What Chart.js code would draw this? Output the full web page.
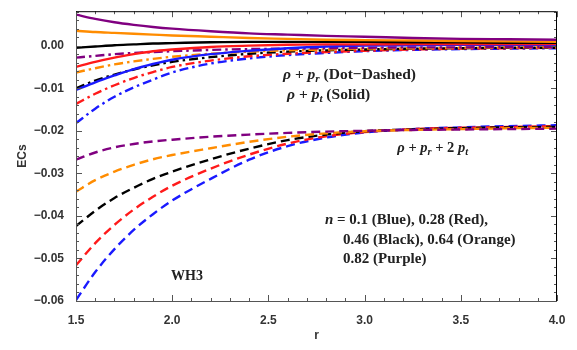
<!DOCTYPE html>
<html>
<head>
<meta charset="utf-8">
<script src="https://cdn.jsdelivr.net/npm/chart.js@4.4.1/dist/chart.umd.min.js"></script>
<style>
    body { margin: 0; background: #fff; }
    #wrap { width: 577px; height: 350px; }
</style>
</head>
<body>
<div id="wrap"><canvas id="canvasEcs"></canvas></div>
<script>
// radial coordinate samples
const rVals = [1.5, 1.6, 1.7, 1.8, 1.9, 2.0, 2.2, 2.4, 2.6, 2.8, 3.0, 3.25, 3.5, 3.75, 4.0]
const xTicks = [1.5, 2.0, 2.5, 3.0, 3.5, 4.0]
const yTicks = [-0.06, -0.05, -0.04, -0.03, -0.02, -0.01, 0.0]

// rho + p_t (solid)
const solidBlue   = [-0.0104, -0.0086, -0.0070, -0.0055, -0.0043, -0.0033, -0.0020, -0.0012, -0.0006, -0.0002, 0.0000, 0.0001, 0.0002, 0.0002, 0.0002]
const solidRed    = [-0.0050, -0.0038, -0.0028, -0.0020, -0.0013, -0.0009, -0.0003, 0.0000, 0.0002, 0.0003, 0.0003, 0.0004, 0.0004, 0.0004, 0.0004]
const solidBlack  = [-0.0005, -0.0002, 0.0001, 0.0003, 0.0005, 0.0006, 0.0008, 0.0009, 0.0009, 0.0009, 0.0009, 0.0008, 0.0008, 0.0007, 0.0007]
const solidOrange = [0.0035, 0.0032, 0.0030, 0.0028, 0.0026, 0.0024, 0.0021, 0.0018, 0.0016, 0.0014, 0.0013, 0.0012, 0.0011, 0.0010, 0.0009]
const solidPurple = [0.0073, 0.0063, 0.0055, 0.0049, 0.0044, 0.0040, 0.0034, 0.0029, 0.0026, 0.0023, 0.0021, 0.0018, 0.0016, 0.0015, 0.0014]

// rho + p_r (dot-dashed)
const dotBlue   = [-0.0182, -0.0148, -0.0120, -0.0098, -0.0080, -0.0063, -0.0042, -0.0030, -0.0022, -0.0017, -0.0013, -0.0010, -0.0008, -0.0007, -0.0006]
const dotRed    = [-0.0137, -0.0113, -0.0093, -0.0076, -0.0062, -0.0050, -0.0035, -0.0025, -0.0019, -0.0015, -0.0012, -0.0009, -0.0007, -0.0006, -0.0005]
const dotBlack  = [-0.0100, -0.0082, -0.0068, -0.0056, -0.0046, -0.0038, -0.0027, -0.0019, -0.0014, -0.0011, -0.0009, -0.0007, -0.0006, -0.0005, -0.0005]
const dotOrange = [-0.0063, -0.0053, -0.0044, -0.0037, -0.0031, -0.0026, -0.0019, -0.0014, -0.0011, -0.0009, -0.0007, -0.0006, -0.0005, -0.0004, -0.0004]
const dotPurple = [-0.0028, -0.0024, -0.0020, -0.0017, -0.0015, -0.0013, -0.0010, -0.0008, -0.0007, -0.0006, -0.0005, -0.0004, -0.0004, -0.0003, -0.0003]

// rho + p_r + 2 p_t (dashed)
const dashBlue   = [-0.0598, -0.0532, -0.0478, -0.0433, -0.0396, -0.0364, -0.0313, -0.0268, -0.0236, -0.0216, -0.0204, -0.0196, -0.0192, -0.0189, -0.0187]
const dashRed    = [-0.0516, -0.0464, -0.0421, -0.0385, -0.0355, -0.0329, -0.0289, -0.0256, -0.0230, -0.0213, -0.0203, -0.0196, -0.0193, -0.0191, -0.0189]
const dashBlack  = [-0.0424, -0.0388, -0.0358, -0.0334, -0.0313, -0.0296, -0.0267, -0.0242, -0.0222, -0.0209, -0.0201, -0.0197, -0.0194, -0.0192, -0.0191]
const dashOrange = [-0.0343, -0.0316, -0.0296, -0.0280, -0.0267, -0.0257, -0.0241, -0.0226, -0.0214, -0.0206, -0.0201, -0.0198, -0.0196, -0.0194, -0.0193]
const dashPurple = [-0.0268, -0.0251, -0.0239, -0.0231, -0.0225, -0.0221, -0.0214, -0.0209, -0.0205, -0.0202, -0.0200, -0.0198, -0.0197, -0.0196, -0.0195]

const BLUE = '#1a1aff', RED = '#ff1a1a', BLACK = '#000000', ORANGE = '#ff8c00', PURPLE = '#800080'
const DASHED = [9, 5]
const DOTDASH = [9, 4, 2.5, 4]

function serie(vals, color, dash) {
    return {
        data: vals.map((v, i) => ({ x: rVals[i], y: v })),
        borderColor: color,
        backgroundColor: color,
        borderWidth: 2.4,
        borderDash: dash,
        pointRadius: 0,
        showLine: true,
        fill: false,
        cubicInterpolationMode: 'monotone'
    }
}

// first dataset is drawn on top
const datasets = [
    serie(dashPurple, PURPLE, DASHED), serie(dashOrange, ORANGE, DASHED), serie(dashBlack, BLACK, DASHED),
    serie(dashRed, RED, DASHED), serie(dashBlue, BLUE, DASHED),
    serie(solidPurple, PURPLE, []), serie(solidOrange, ORANGE, []), serie(solidBlack, BLACK, []),
    serie(solidRed, RED, []), serie(solidBlue, BLUE, []),
    serie(dotPurple, PURPLE, DOTDASH), serie(dotOrange, ORANGE, DOTDASH), serie(dotBlack, BLACK, DOTDASH),
    serie(dotRed, RED, DOTDASH), serie(dotBlue, BLUE, DOTDASH)
]

const SERIF = '"Liberation Serif", "DejaVu Serif", serif'

// text pieces: [text, italic, sub]
function richText(ctx, parts, x, y, size, bold) {
    let cx = x
    parts.forEach(p => {
        const sub = p[2]
        const fs = sub ? size * 0.72 : size
        ctx.font = (p[1] ? 'italic ' : '') + (bold ? 'bold ' : '') + fs + 'px ' + SERIF
        ctx.fillText(p[0], cx, sub ? y + size * 0.28 : y)
        cx += ctx.measureText(p[0]).width
    })
}

const framePlugin = {
    id: 'frame',
    afterDatasetsDraw(chart) {
        const { ctx, chartArea: a, scales: { x, y } } = chart
        ctx.save()
        ctx.lineWidth = 1
        // minor + major ticks, inside the frame
        ctx.strokeStyle = '#555'
        ctx.beginPath()
        for (let i = 0; i <= 25; i++) {
            const v = 1.5 + i * 0.1
            const px = Math.round(x.getPixelForValue(v)) + 0.5
            const len = i % 5 === 0 ? 6 : 3
            ctx.moveTo(px, a.bottom); ctx.lineTo(px, a.bottom - len)
            ctx.moveTo(px, a.top); ctx.lineTo(px, a.top + len)
        }
        for (let i = 0; i <= 34; i++) {
            const v = -0.06 + i * 0.002
            if (v > y.max) break
            const py = Math.round(y.getPixelForValue(v)) + 0.5
            const len = i % 5 === 0 ? 6 : 3
            ctx.moveTo(a.left, py); ctx.lineTo(a.left + len, py)
            ctx.moveTo(a.right, py); ctx.lineTo(a.right - len, py)
        }
        ctx.stroke()
        // frame
        ctx.strokeStyle = '#555'
        ctx.beginPath()
        ctx.moveTo(a.left + 0.5, a.top); ctx.lineTo(a.left + 0.5, a.bottom + 0.5); ctx.lineTo(a.right, a.bottom + 0.5)
        ctx.stroke()
        ctx.strokeStyle = '#000'
        ctx.beginPath()
        ctx.moveTo(a.left, a.top + 0.5); ctx.lineTo(a.right - 0.5, a.top + 0.5); ctx.lineTo(a.right - 0.5, a.bottom)
        ctx.stroke()

        // annotations
        ctx.fillStyle = '#222'
        ctx.textBaseline = 'middle'
        ctx.textAlign = 'left'
        const px = v => x.getPixelForValue(v)
        const py = v => y.getPixelForValue(v)
        richText(ctx, [['ρ', true], [' + ', false], ['p', true], ['r', true, true], [' (Dot−Dashed)', false]], px(2.576), py(-0.0069), 15.5, true)
        richText(ctx, [['ρ', true], [' + ', false], ['p', true], ['t', true, true], [' (Solid)', false]], px(2.597), py(-0.0115), 15.5, true)
        richText(ctx, [['ρ', true], [' + ', false], ['p', true], ['r', true, true], [' + 2 ', false], ['p', true], ['t', true, true]], px(3.17), py(-0.0240), 14.5, true)
        richText(ctx, [['n', true], [' = 0.1 (Blue), 0.28 (Red),', false]], px(2.794), py(-0.0411), 15, true)
        richText(ctx, [['0.46 (Black), 0.64 (Orange)', false]], px(2.888), py(-0.0457), 15, true)
        richText(ctx, [['0.82 (Purple)', false]], px(2.888), py(-0.0501), 15, true)
        richText(ctx, [['WH3', false]], px(1.994), py(-0.0542), 14, true)
        ctx.restore()
    }
}

const tickFont = { family: '"Liberation Sans", Arial, sans-serif', size: 12, weight: 'bold' }

new Chart(document.getElementById('canvasEcs'), {
    type: 'scatter',
    data: { datasets: datasets },
    options: {
        responsive: true,
        maintainAspectRatio: false,
        animation: false,
        layout: { padding: { top: 6, right: 20, left: 0, bottom: 0 } },
        plugins: { legend: { display: false }, tooltip: { enabled: false } },
        scales: {
            x: {
                type: 'linear',
                min: 1.5,
                max: 4.0,
                grid: { display: false },
                border: { display: false },
                afterBuildTicks: s => { s.ticks = xTicks.map(v => ({ value: v })) },
                afterFit: s => { s.height = 49 },
                ticks: { font: tickFont, color: '#333', padding: 4, maxRotation: 0, callback: v => v.toFixed(1) },
                title: { display: true, text: 'r', font: tickFont, color: '#333', padding: { top: 6, bottom: 7 } }
            },
            y: {
                type: 'linear',
                min: -0.06,
                max: 0.0081,
                grid: { display: false },
                border: { display: false },
                afterBuildTicks: s => { s.ticks = yTicks.map(v => ({ value: v })) },
                afterFit: s => { s.width = 76 },
                ticks: {
                    font: tickFont, color: '#333', padding: 4,
                    callback: v => Math.abs(v) < 1e-9 ? '0.00' : '\u2212' + Math.abs(v).toFixed(2)
                },
                title: { display: true, text: 'ECs', font: tickFont, color: '#333', padding: { top: 15, bottom: 0 } }
            }
        }
    },
    plugins: [framePlugin]
});
</script>
</body>
</html>
